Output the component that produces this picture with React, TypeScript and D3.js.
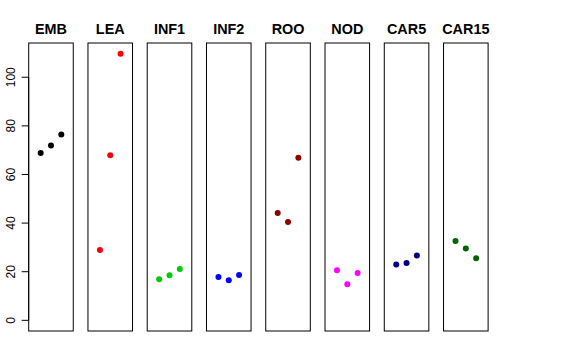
import React from 'react';
import * as d3 from 'd3';

const categories = ['EMB', 'LEA', 'INF1', 'INF2', 'ROO', 'NOD', 'CAR5', 'CAR15'];
const colors = ['#000000', '#FF0000', '#00CD00', '#0000FF', '#8B0000', '#FF00FF', '#000080', '#006400'];

// three replicate values per tissue
const embValues = [68.8, 71.9, 76.4];
const leaValues = [28.9, 67.9, 109.7];
const inf1Values = [16.9, 18.5, 21.1];
const inf2Values = [17.8, 16.5, 18.6];
const rooValues = [44.2, 40.5, 66.9];
const nodValues = [20.6, 14.8, 19.5];
const car5Values = [23.0, 23.6, 26.7];
const car15Values = [32.6, 29.6, 25.5];

const seriesValues = [embValues, leaValues, inf1Values, inf2Values, rooValues, nodValues, car5Values, car15Values];
const yTicks = [0, 20, 40, 60, 80, 100];

const width = 576;
const height = 360;
const top = 43;
const bottom = 331;

export default function App() {
  const maxVal = d3.max(seriesValues.flat()) as number;
  const pad = maxVal * 0.04;
  const y = d3.scaleLinear().domain([-pad, maxVal + pad]).range([bottom, top]);

  const panel = d3.scaleBand<string>()
    .domain(categories)
    .range([28.7, 488.1])
    .paddingInner(0.248)
    .paddingOuter(0);
  const bw = panel.bandwidth();
  // x within panel: index 1..3 on xlim c(0, 4)
  const xIn = d3.scaleLinear().domain([-0.16, 4.16]).range([0, bw]);

  const axisX = panel(categories[0]) as number;

  return (
    <svg width={width} height={height} style={{ position: 'absolute', left: 0, top: 0, background: '#fff' }}
      fontFamily="'Liberation Sans', Arial, sans-serif">
      {categories.map((cat, i) => {
        const x0 = panel(cat) as number;
        return (
          <g key={cat}>
            <text x={x0 + bw / 2} y={33.5} textAnchor="middle" fontWeight="bold" fontSize={14.4}>{cat}</text>
            <rect x={x0} y={top} width={bw} height={bottom - top} fill="none" stroke="#000" strokeWidth={1} />
            {seriesValues[i].map((v, j) => (
              <circle key={j} cx={x0 + xIn(j + 1)} cy={y(v)} r={3} fill={colors[i]} />
            ))}
          </g>
        );
      })}
      <g>
        <line x1={axisX} x2={axisX} y1={y(0)} y2={y(100)} stroke="#000" />
        {yTicks.map(t => (
          <g key={t}>
            <line x1={axisX - 7} x2={axisX} y1={y(t)} y2={y(t)} stroke="#000" />
            <text transform={`translate(14.5,${y(t)}) rotate(-90)`} textAnchor="middle" fontSize={12}>{t}</text>
          </g>
        ))}
      </g>
    </svg>
  );
}
